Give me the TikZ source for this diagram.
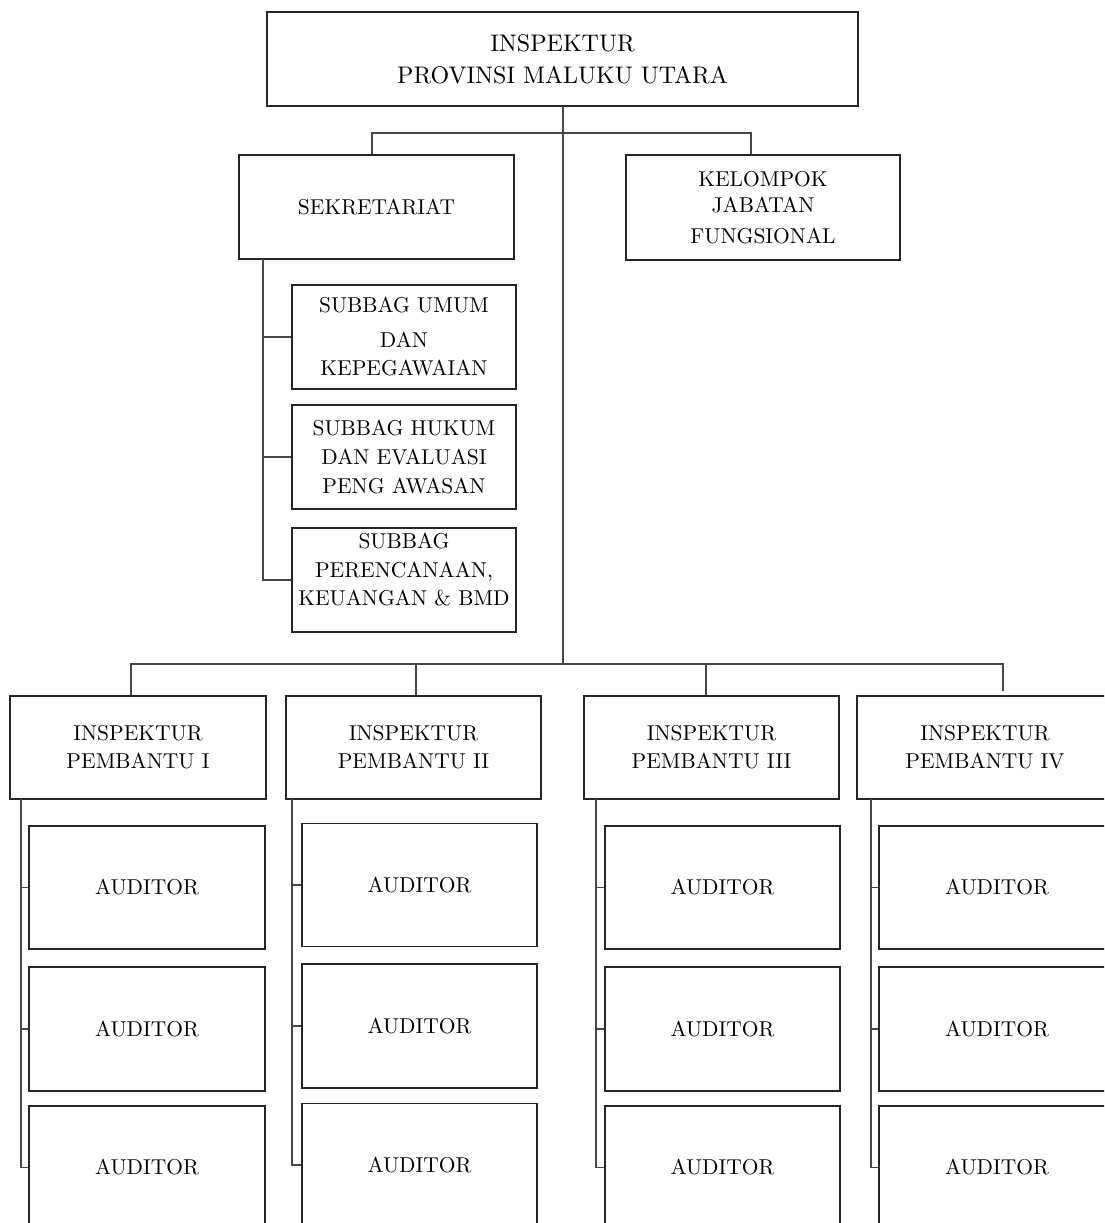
\documentclass[tikz,border=0pt]{standalone}
\usepackage{fontspec}
\setmainfont{lmroman10-regular.otf}
\begin{document}
\begin{tikzpicture}[x=1pt,y=-1pt,
  box/.style={draw=black!85,line width=1.8pt,line cap=round,rectangle,inner sep=0pt,align=center,
    font=\fontsize{21.5}{28}\selectfont},
  conn/.style={draw=black!72,line width=1.1pt}]
\useasboundingbox (0,0) rectangle (1104,1223);
\clip (0,0) rectangle (1104,1223);
% top level
\node[box,minimum width=591pt,minimum height=94pt,font=\fontsize{24}{32}\selectfont] (top) at (562.5,59) {INSPEKTUR\\PROVINSI MALUKU UTARA};
\node[box,minimum width=275pt,minimum height=104pt] (sek) at (376.5,207) {SEKRETARIAT};
\node[box,minimum width=274pt,minimum height=105pt] (kjf) at (763,207.5) {KELOMPOK\\[-2pt]JABATAN\\[3pt]FUNGSIONAL};
\node[box,minimum width=224pt,minimum height=104pt] (sb1) at (404,337) {SUBBAG UMUM\\[7pt]DAN\\KEPEGAWAIAN};
\node[box,minimum width=224pt,minimum height=104pt] (sb2) at (404,457) {SUBBAG HUKUM\\[1pt]DAN EVALUASI\\[1pt]PENG AWASAN};
\node[box,minimum width=224pt,minimum height=104pt] (sb3) at (404,580) {SUBBAG\\[1pt]PERENCANAAN,\\KEUANGAN \& BMD\\[-14pt]\strut};
% inspektur pembantu
\node[box,minimum width=256pt,minimum height=103pt] (ip1) at (138,747.5) {INSPEKTUR\\PEMBANTU I};
\node[box,minimum width=255pt,minimum height=103pt] (ip2) at (413.5,747.5) {INSPEKTUR\\PEMBANTU II};
\node[box,minimum width=255pt,minimum height=103pt] (ip3) at (711.5,747.5) {INSPEKTUR\\PEMBANTU III};
\node[box,minimum width=256pt,minimum height=103pt] (ip4) at (985,747.5) {INSPEKTUR\\PEMBANTU IV};
% auditors
\foreach \c/\cx/\w/\ya/\yb/\yc in {1/147/236/887.5/1029/1167.5, 2/419.5/235/885/1026/1165, 3/722.5/235/887.5/1029/1167.5, 4/997/236/887.5/1029/1167.5}{
  \node[box,minimum width=\w pt,minimum height=123pt] (a\c1) at (\cx,\ya) {AUDITOR};
  \node[box,minimum width=\w pt,minimum height=124pt] (a\c2) at (\cx,\yb) {AUDITOR};
  \node[box,minimum width=\w pt,minimum height=123pt] (a\c3) at (\cx,\yc) {AUDITOR};
}
% connectors top
\coordinate (tb) at (563,106);
\coordinate (hb) at (563,133);
\coordinate (bb) at (563,664);
\draw[conn] (tb) -- (bb);
\draw[conn] (sek.north -| 372,0) |- (hb) -| (kjf.north -| 751,0);
% sekretariat branch
\coordinate (sv) at (263,259);
\draw[conn] (sv) |- (sb3.west);
\draw[conn] (sb1.west) -- (sb1.west -| sv);
\draw[conn] (sb2.west) -- (sb2.west -| sv);
% bottom bus
\coordinate (b1) at (131,664);
\coordinate (b4) at (1003,664);
\coordinate (e4) at (1003,691);
\draw[conn] (ip1.north -| b1) -- (b1) -- (b4) -- (e4);
\draw[conn] (ip2.north -| 416,0) -- (416,664);
\draw[conn] (ip3.north -| 706,0) -- (706,664);
% pembantu columns
\foreach \c/\vx in {1/21,2/292,3/596,4/871}{
  \coordinate (v\c) at (\vx,799);
  \draw[conn] (v\c) |- (a\c3.west);
  \draw[conn] (a\c1.west) -- (a\c1.west -| v\c);
  \draw[conn] (a\c2.west) -- (a\c2.west -| v\c);
}
\end{tikzpicture}
\end{document}
